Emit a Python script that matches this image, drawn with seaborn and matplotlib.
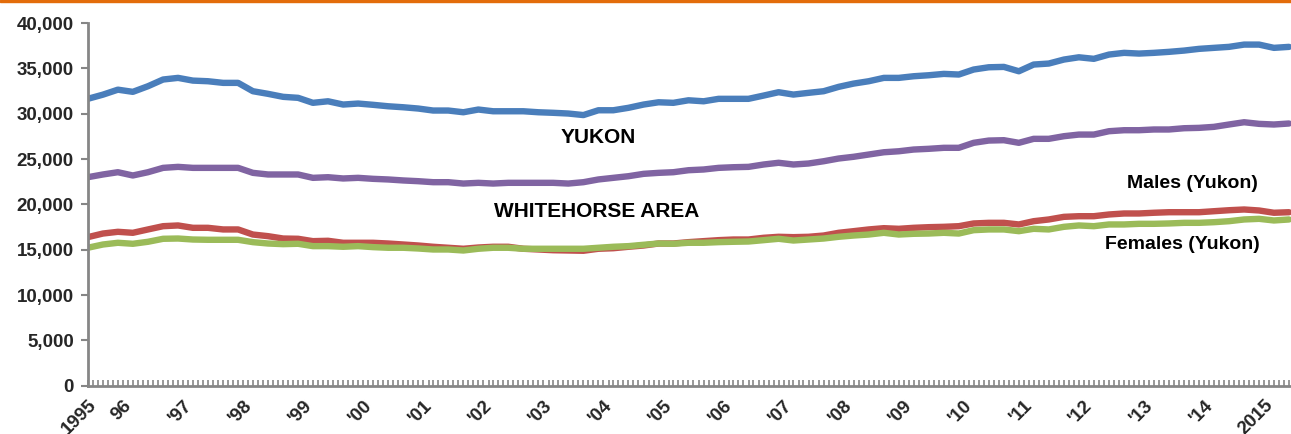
import numpy as np
import pandas as pd
import seaborn as sns
import matplotlib.pyplot as plt
import matplotlib.dates as mdates
from matplotlib.patches import Rectangle

# ─── DATA (quarterly readings, Jun 1995 - Jun 2015) ─────────
dates = pd.date_range("1995-06-01", periods=81, freq="3MS")

yukon = [
    31640, 32100, 32650, 32410, 33030, 33770, 33950, 33650, 33580, 33400,
    33400, 32480, 32190, 31860, 31750, 31200, 31370, 31010, 31120, 30980,
    30820, 30710, 30570, 30350, 30350, 30160, 30460, 30270, 30270, 30270,
    30160, 30100, 30020, 29850, 30380, 30380, 30650, 31010, 31260, 31200,
    31480, 31370, 31640, 31640, 31640, 32000, 32370, 32110, 32300, 32480,
    32960, 33320, 33580, 33950, 33950, 34130, 34240, 34390, 34320, 34870,
    35120, 35160, 34680, 35420, 35530, 35970, 36220, 36050, 36520, 36710,
    36630, 36710, 36820, 36960, 37150, 37260, 37370, 37620, 37620, 37260,
    37370,
]
whitehorse = [
    23000, 23300, 23550, 23190, 23550, 24030, 24140, 24030, 24030, 24030,
    24030, 23480, 23300, 23300, 23300, 22930, 23000, 22860, 22930, 22820,
    22750, 22640, 22560, 22450, 22450, 22300, 22380, 22300, 22380, 22380,
    22380, 22380, 22300, 22450, 22750, 22930, 23110, 23370, 23480, 23550,
    23770, 23850, 24030, 24100, 24140, 24400, 24590, 24400, 24510, 24760,
    25060, 25250, 25500, 25750, 25860, 26050, 26130, 26240, 26240, 26790,
    27040, 27080, 26790, 27230, 27230, 27520, 27700, 27700, 28070, 28180,
    28180, 28260, 28260, 28400, 28440, 28550, 28810, 29060, 28880, 28810,
    28920,
]
males = [
    16390, 16790, 16980, 16870, 17240, 17600, 17680, 17420, 17420, 17240,
    17240, 16680, 16500, 16240, 16210, 15950, 15990, 15770, 15770, 15770,
    15690, 15580, 15470, 15330, 15220, 15110, 15250, 15330, 15330, 15110,
    15030, 14950, 14920, 14890, 15110, 15170, 15330, 15470, 15690, 15690,
    15840, 15950, 16060, 16130, 16130, 16320, 16430, 16390, 16430, 16570,
    16870, 17050, 17240, 17380, 17310, 17420, 17490, 17530, 17600, 17900,
    17970, 17970, 17790, 18150, 18340, 18630, 18700, 18700, 18890, 19000,
    19000, 19080, 19140, 19140, 19140, 19250, 19360, 19440, 19330, 19080,
    19140,
]
females = [
    15220, 15580, 15770, 15660, 15880, 16210, 16240, 16130, 16100, 16100,
    16100, 15840, 15690, 15620, 15660, 15400, 15400, 15330, 15400, 15290,
    15220, 15220, 15140, 15030, 15030, 14920, 15110, 15220, 15220, 15110,
    15110, 15110, 15110, 15110, 15220, 15330, 15400, 15550, 15690, 15660,
    15770, 15770, 15840, 15880, 15910, 16060, 16210, 16020, 16130, 16240,
    16430, 16570, 16680, 16870, 16680, 16760, 16790, 16870, 16790, 17160,
    17240, 17240, 17050, 17310, 17240, 17530, 17680, 17600, 17790, 17790,
    17860, 17860, 17900, 17970, 17970, 18040, 18150, 18340, 18410, 18230,
    18340,
]

series_names = ["Whitehorse area", "Yukon", "Males (Yukon)", "Females (Yukon)"]
series_colors = ["#8064A2", "#4A7EBB", "#C0504D", "#9BBB59"]

tick_dates = [dates[0]] + [pd.Timestamp(f"{y}-01-01") for y in range(1996, 2016)]
tick_labels = ["1995", "96"] + [f"'{y % 100:02d}" for y in range(1997, 2015)] + ["2015"]

df = pd.concat([
    pd.DataFrame({"date": dates, "value": whitehorse, "series": series_names[0]}),
    pd.DataFrame({"date": dates, "value": yukon, "series": series_names[1]}),
    pd.DataFrame({"date": dates, "value": males, "series": series_names[2]}),
    pd.DataFrame({"date": dates, "value": females, "series": series_names[3]}),
])

# ─── PLOT ──────────────────────────────────────
sns.set_style("white")
plt.rcParams["font.family"] = ["Liberation Sans", "DejaVu Sans"]

fig = plt.figure(figsize=(12.91, 4.34), dpi=100)
ax = fig.add_axes([0.068, 0.111, 0.932, 0.836])

sns.lineplot(data=df, x="date", y="value", hue="series",
             hue_order=series_names,
             palette=dict(zip(series_names, series_colors)),
             linewidth=4.6, legend=False, ax=ax)

ax.set_xlim(dates[0], dates[-1] + pd.Timedelta(days=12))
ax.set_ylim(0, 40000)
ax.set_xlabel("")
ax.set_ylabel("")

ax.set_yticks(range(0, 40001, 5000))
ax.yaxis.set_major_formatter(plt.FuncFormatter(lambda v, p: f"{int(v):,}"))

ax.set_xticks(tick_dates)
ax.set_xticklabels(tick_labels, rotation=45, ha="right", rotation_mode="anchor")
ax.xaxis.set_minor_locator(mdates.MonthLocator())

for lab in ax.get_xticklabels() + ax.get_yticklabels():
    lab.set_fontweight("bold")
    lab.set_fontsize(13.5)

ax.tick_params(axis="y", which="major", left=True, direction="out", length=5,
               width=1.5, color="#868686", pad=5)
ax.tick_params(axis="x", which="both", bottom=True, direction="in", length=4,
               width=1.2, color="#868686", pad=8)

for side in ["top", "right"]:
    ax.spines[side].set_visible(False)
for side in ["left", "bottom"]:
    ax.spines[side].set_color("#868686")
    ax.spines[side].set_linewidth(2)

# ─── LABELS ────────────────────────────────────
txt = dict(transform=ax.transAxes, ha="center", va="center",
           fontweight="bold", color="black")
ax.text(0.424, 0.684, "YUKON", fontsize=15, **txt)
ax.text(0.423, 0.481, "WHITEHORSE AREA", fontsize=15, **txt)
ax.text(0.918, 0.559, "Males (Yukon)", fontsize=14, **txt)
ax.text(0.910, 0.389, "Females (Yukon)", fontsize=14, **txt)

# orange rule along the top edge
fig.patches.append(Rectangle((0, 0.995), 1, 0.005, transform=fig.transFigure,
                             color="#E36C0A", zorder=5))

fig.savefig("out.png", dpi=100)
